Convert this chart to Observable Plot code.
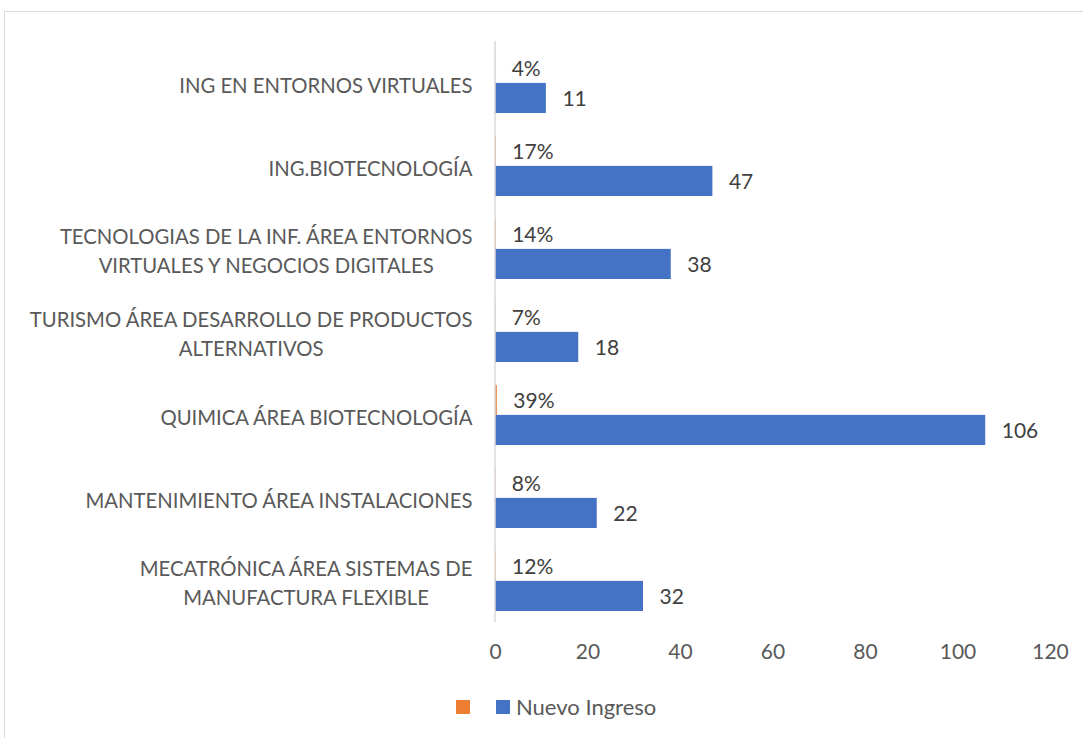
<!DOCTYPE html>
<html><head><meta charset="utf-8">
<script src="https://cdn.jsdelivr.net/npm/d3@7"></script>
<script src="https://cdn.jsdelivr.net/npm/@observablehq/plot@0.6"></script>
<style>
body{margin:0;background:#fff;font-family:Lato,"Open Sans",sans-serif;}
#wrap{position:relative;width:1083px;height:738px;overflow:hidden;}
#frame{position:absolute;left:4px;top:11px;width:1100px;height:760px;border:1px solid #d9d9d9;box-sizing:border-box;}
#chart{position:absolute;left:0;top:0;}
#legend{position:absolute;top:693px;left:456px;display:flex;align-items:center;font-size:22px;color:#595959;}
.sw{display:inline-block;width:14px;height:14px;}
</style></head>
<body><div id="wrap"><div id="frame"></div><div id="chart"></div><div id="legend"></div></div>
<script>
const categories = ["ING EN ENTORNOS VIRTUALES","ING.BIOTECNOLOGÍA","TECNOLOGIAS DE LA INF. ÁREA ENTORNOS\nVIRTUALES Y NEGOCIOS DIGITALES","TURISMO ÁREA DESARROLLO DE PRODUCTOS\nALTERNATIVOS","QUIMICA ÁREA BIOTECNOLOGÍA","MANTENIMIENTO ÁREA INSTALACIONES","MECATRÓNICA ÁREA SISTEMAS DE\nMANUFACTURA FLEXIBLE"];
const counts = [11,47,38,18,106,22,32];
const shares = [0.04,0.17,0.14,0.07,0.39,0.08,0.12];
const shareLabels = ["4%","17%","14%","7%","39%","8%","12%"];
const xTicks = [0,20,40,60,80,100,120];
const seriesNames = ["", "Nuevo Ingreso"];
const colors = ["#ed7d31","#4472c4"];

const rows = categories.map((c,i)=>({cat:c,count:counts[i],share:shares[i],shareLabel:shareLabels[i]}));

const chart = Plot.plot({
  width:1083, height:690,
  marginLeft:495, marginRight:33, marginTop:41, marginBottom:68,
  style:{fontFamily:"Lato, 'Open Sans', sans-serif", color:"#595959", background:"transparent"},
  x:{domain:[0,120], ticks:xTicks, label:null},
  y:{domain:categories, paddingInner:0.28, paddingOuter:0.14, label:null},
  marks:[
    Plot.barX(rows,{y:"cat",x:"share",fill:colors[0],insetBottom:29.9}),
    Plot.barX(rows,{y:"cat",x:"count",fill:colors[1],insetTop:29.9}),
    Plot.ruleX([0],{stroke:"#d9d9d9",strokeWidth:1.5,dx:-0.5}),
    Plot.text(rows,{y:"cat",x:"share",text:"shareLabel",textAnchor:"start",dx:16,dy:-14,fontSize:21,fill:"#404040"}),
    Plot.text(rows,{y:"cat",x:"count",text:d=>String(d.count),textAnchor:"start",dx:16,dy:16,fontSize:21,fill:"#404040"}),
    Plot.axisX({ticks:xTicks,tickSize:0,tickPadding:22,fontSize:21,fill:"#595959",label:null}),
    Plot.axisY({tickSize:0,tickPadding:23,fontSize:20.3,fill:"#595959",lineHeight:1.43,label:null})
  ]
});
document.getElementById("chart").appendChild(chart);
// center multi-line labels relative to each other, keeping right edge
chart.querySelectorAll('g[aria-label="y-axis tick label"] text').forEach(t=>{
  const spans = t.querySelectorAll("tspan");
  if (spans.length < 2) return;
  const w = t.getBBox().width;
  t.setAttribute("text-anchor","middle");
  spans.forEach(s=>s.setAttribute("x", -w/2));
});
const lg = document.getElementById("legend");
lg.innerHTML = `<span class="sw" style="background:${colors[0]}"></span><span style="width:26px"></span><span class="sw" style="background:${colors[1]}"></span><span style="margin-left:6px">${seriesNames[1]}</span>`;
</script></body></html>
